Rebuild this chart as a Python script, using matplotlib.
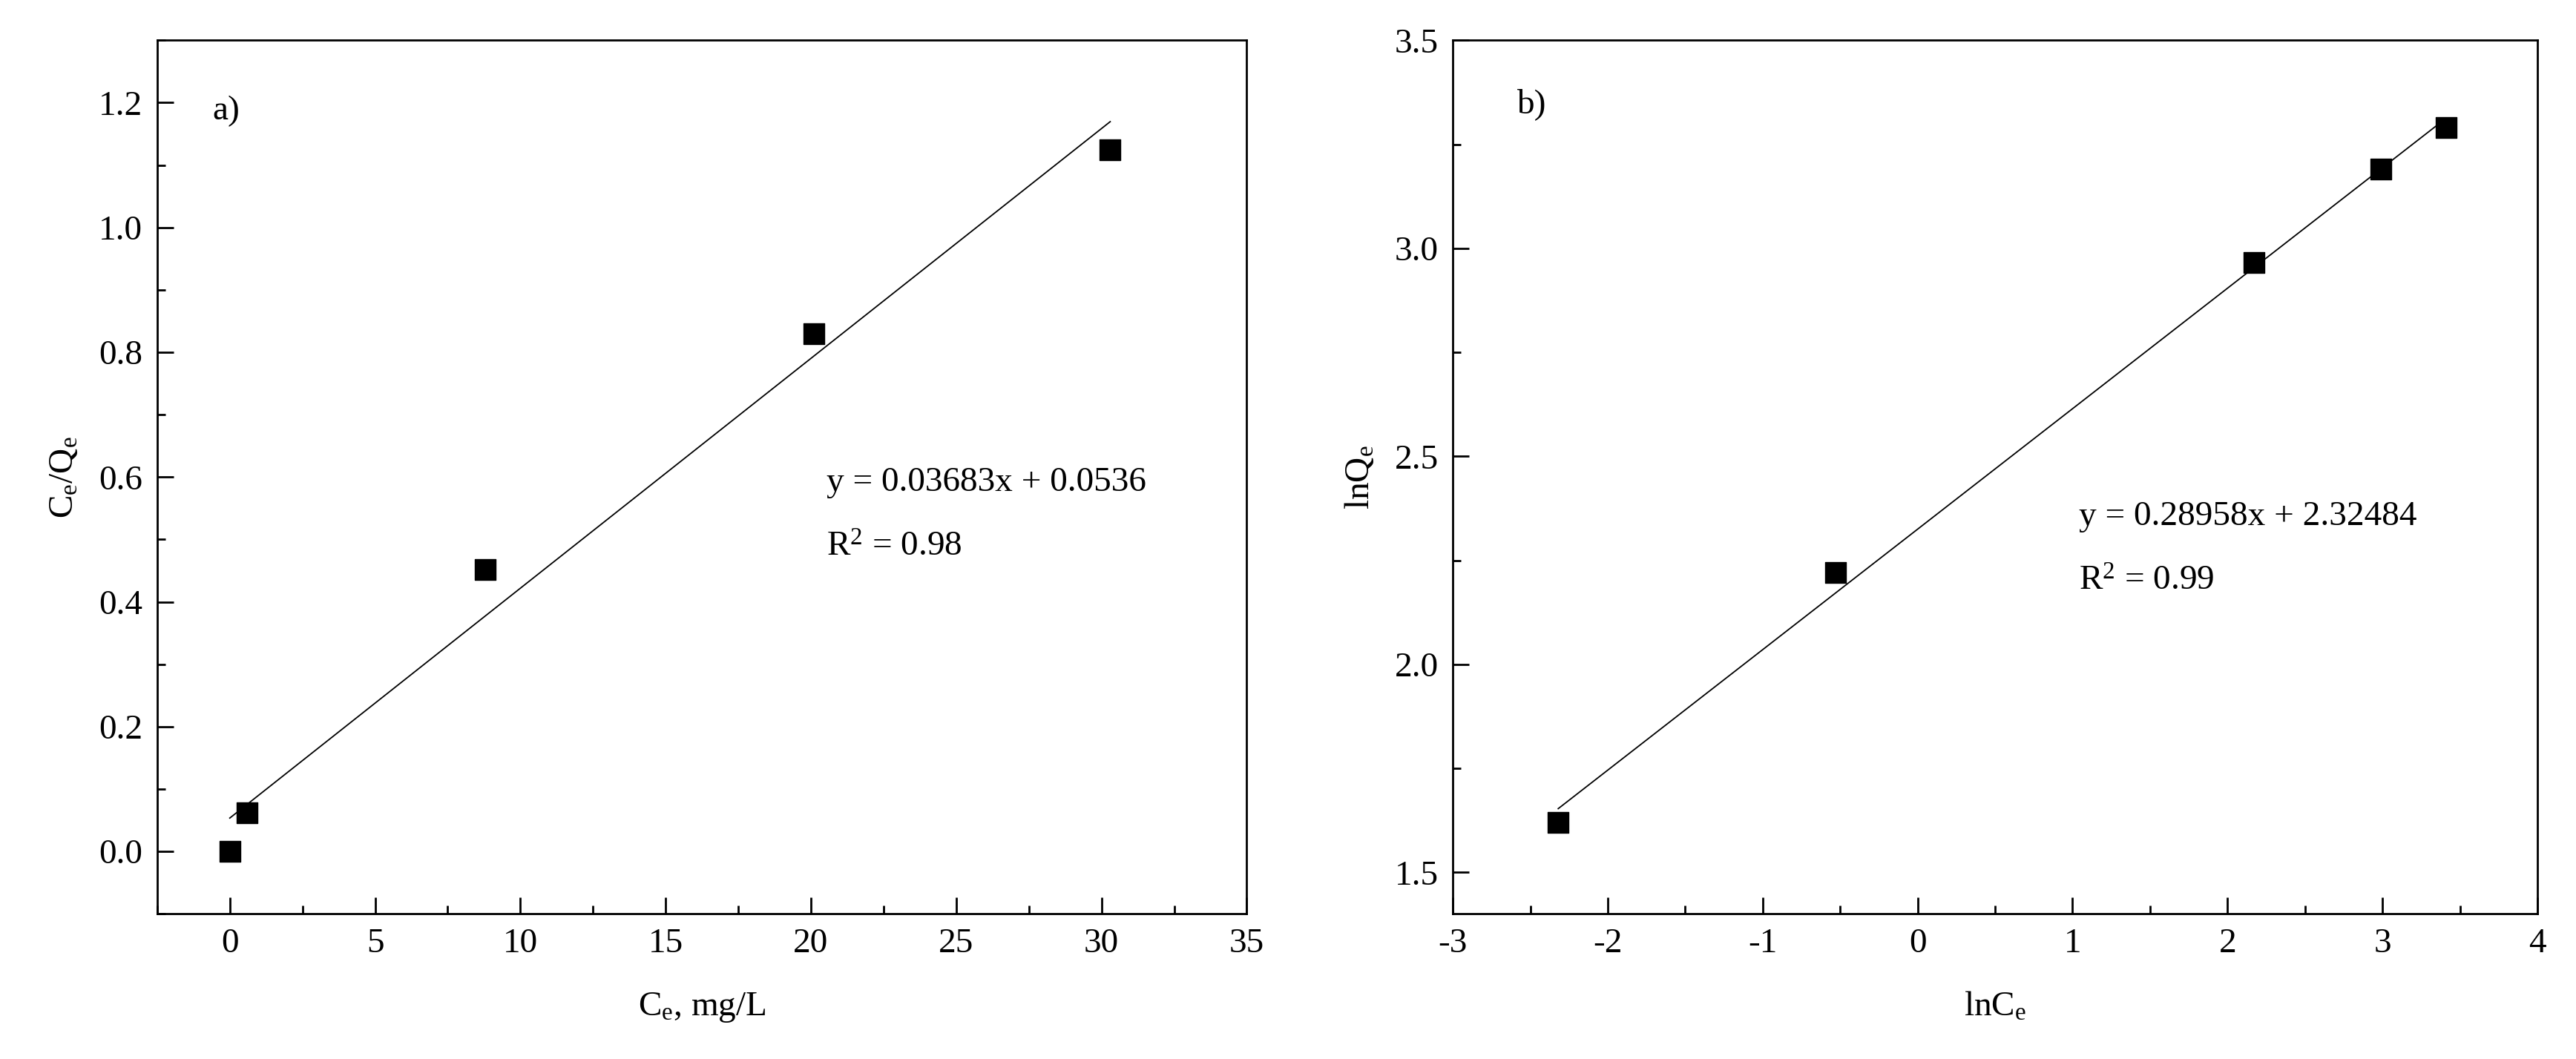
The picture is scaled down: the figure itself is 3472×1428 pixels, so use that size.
import numpy as np
import matplotlib
matplotlib.use("Agg")
from matplotlib import pyplot as plt
from matplotlib.ticker import AutoMinorLocator

# panel a) Langmuir
ce_a = [0.0, 0.6, 8.8, 20.1, 30.3]
ceqe_a = [0.0, 0.062, 0.452, 0.83, 1.125]
slope_a, icpt_a = 0.03683, 0.0536

# panel b) Freundlich
lnce_b = [-2.32, -0.53, 2.17, 2.99, 3.41]
lnqe_b = [1.62, 2.22, 2.965, 3.19, 3.29]
slope_b, icpt_b = 0.28958, 2.32484

plt.rcParams['font.family'] = ['Liberation Serif', 'DejaVu Serif']
plt.rcParams['mathtext.fontset'] = 'custom'
plt.rcParams['mathtext.rm'] = 'Liberation Serif'
plt.rcParams['mathtext.it'] = 'Liberation Serif'
plt.rcParams['axes.unicode_minus'] = False
fs = 34

fig = plt.figure(figsize=(34.72, 14.28), dpi=100)
ax1 = fig.add_axes([0.061, 0.137, 0.423, 0.825])
ax2 = fig.add_axes([0.564, 0.137, 0.421, 0.825])


def style(ax):
    ax.xaxis.set_minor_locator(AutoMinorLocator(2))
    ax.yaxis.set_minor_locator(AutoMinorLocator(2))
    ax.tick_params(which='both', direction='in', top=False, right=False, labelsize=fs, width=2)
    ax.tick_params(which='major', length=16, pad=14)
    ax.tick_params(which='minor', length=8)
    for s in ax.spines.values():
        s.set_linewidth(2)


def fit_text(ax, x, y, eq, r2):
    ax.text(x, y, eq, transform=ax.transAxes, fontsize=fs, va='center')
    ax.text(x, y - 0.075, r2, transform=ax.transAxes, fontsize=fs, va='center')


ax1.scatter(ce_a, ceqe_a, marker='s', s=380, color='black', zorder=3)
xa = np.array([ce_a[0], ce_a[-1]])
ax1.plot(xa, slope_a * xa + icpt_a, color='black', lw=1.3)
ax1.set_xlim(-2.5, 35)
ax1.set_ylim(-0.1, 1.3)
ax1.set_xticks(np.arange(0, 36, 5))
ax1.set_yticks(np.arange(0, 1.21, 0.2))
ax1.set_xlabel(r'C$_{e}$, mg/L', fontsize=fs, labelpad=30)
ax1.set_ylabel(r'C$_{e}$/Q$_{e}$', fontsize=fs, labelpad=18)
ax1.text(0.051, 0.919, 'a)', transform=ax1.transAxes, fontsize=fs, va='center')
fit_text(ax1, 0.614, 0.494, 'y = 0.03683x + 0.0536', 'R$^{2}$ = 0.98')
style(ax1)

ax2.scatter(lnce_b, lnqe_b, marker='s', s=380, color='black', zorder=3)
xb = np.array([lnce_b[0], lnce_b[-1]])
ax2.plot(xb, slope_b * xb + icpt_b, color='black', lw=1.3)
ax2.set_xlim(-3, 4)
ax2.set_ylim(1.4, 3.5)
ax2.set_xticks(np.arange(-3, 5, 1))
ax2.set_yticks(np.arange(1.5, 3.51, 0.5))
ax2.set_xlabel(r'lnC$_{e}$', fontsize=fs, labelpad=30)
ax2.set_ylabel(r'lnQ$_{e}$', fontsize=fs, labelpad=18)
ax2.text(0.059, 0.927, 'b)', transform=ax2.transAxes, fontsize=fs, va='center')
fit_text(ax2, 0.577, 0.455, 'y = 0.28958x + 2.32484', 'R$^{2}$ = 0.99')
style(ax2)

fig.savefig('out.png', dpi=100)
